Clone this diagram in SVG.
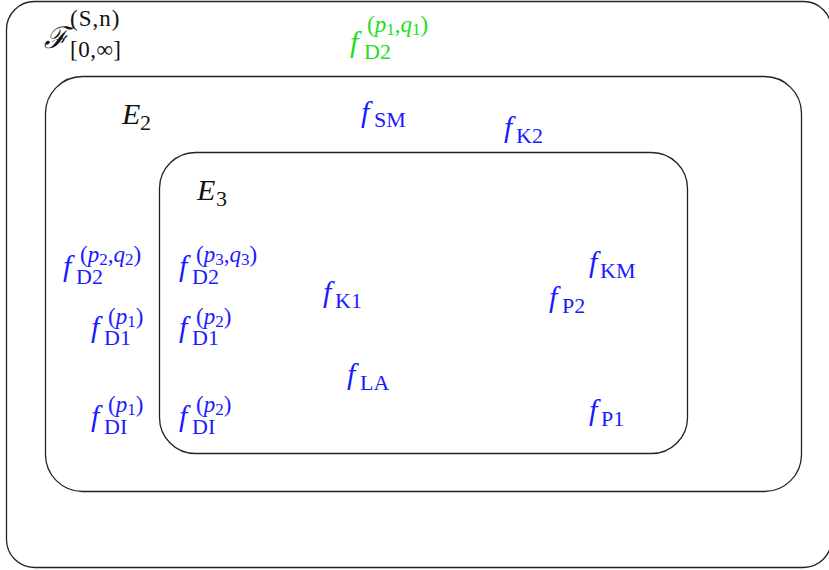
<svg xmlns="http://www.w3.org/2000/svg" width="829" height="570" viewBox="0 0 829 570">
<style>
.box{fill:none;stroke:#222;stroke-width:1.3}
text{font-family:"Liberation Serif","DejaVu Serif",serif;fill:#1a1aff}
.g{fill:#22dd22}
.k{fill:#111}
.m{font-size:30px;font-style:italic}
.s{font-size:22px;font-style:normal}
.su{font-size:23px;font-style:normal}
.si{font-size:23px;font-style:italic}
.ss{font-size:17px;font-style:normal}
</style>
<g id="outer">
<rect class="box" x="6.5" y="1.5" width="825" height="566" rx="28"/>
<text class="k"><tspan class="m" x="44" y="48" font-family="DejaVu Serif,serif">ℱ</tspan><tspan class="su" x="70" y="26" letter-spacing="1">(S,n)</tspan><tspan class="su" x="70" y="57" letter-spacing="0.5">[0,∞]</tspan></text>
</g>
<g id="E2">
<rect class="box" x="45.5" y="76.5" width="756" height="415" rx="37"/>
<text class="k"><tspan class="m" x="122" y="124">E</tspan><tspan class="s" x="140" y="130">2</tspan></text>
</g>
<g id="E3">
<rect class="box" x="159.5" y="152.5" width="528" height="301" rx="36"/>
<text class="k"><tspan class="m" x="197" y="200">E</tspan><tspan class="s" x="216" y="206">3</tspan></text>
</g>
<g id="fD2_p1q1">
<text class="g"><tspan class="m" x="350" y="52">f</tspan><tspan class="su" x="367" y="32">(</tspan><tspan class="si">p</tspan><tspan class="ss" dy="3">1</tspan><tspan class="su" dy="-3">,</tspan><tspan class="si">q</tspan><tspan class="ss" dy="3">1</tspan><tspan class="su" dy="-3">)</tspan><tspan class="s" x="364" y="59">D2</tspan></text>
</g>
<g id="fSM"><text><tspan class="m" x="361" y="122">f</tspan><tspan class="s" x="374" y="127">SM</tspan></text></g>
<g id="fK2"><text><tspan class="m" x="504" y="137">f</tspan><tspan class="s" x="516" y="143">K2</tspan></text></g>
<g id="fD2_p2q2">
<text><tspan class="m" x="63" y="276">f</tspan><tspan class="su" x="80" y="262">(</tspan><tspan class="si">p</tspan><tspan class="ss" dy="3">2</tspan><tspan class="su" dy="-3">,</tspan><tspan class="si">q</tspan><tspan class="ss" dy="3">2</tspan><tspan class="su" dy="-3">)</tspan><tspan class="s" x="76" y="284">D2</tspan></text>
</g>
<g id="fD2_p3q3">
<text><tspan class="m" x="179" y="276">f</tspan><tspan class="su" x="196" y="262">(</tspan><tspan class="si">p</tspan><tspan class="ss" dy="3">3</tspan><tspan class="su" dy="-3">,</tspan><tspan class="si">q</tspan><tspan class="ss" dy="3">3</tspan><tspan class="su" dy="-3">)</tspan><tspan class="s" x="192" y="284">D2</tspan></text>
</g>
<g id="fD1_p1">
<text><tspan class="m" x="91" y="337">f</tspan><tspan class="su" x="108" y="324">(</tspan><tspan class="si">p</tspan><tspan class="ss" dy="3">1</tspan><tspan class="su" dy="-3">)</tspan><tspan class="s" x="104" y="345">D1</tspan></text>
</g>
<g id="fD1_p2">
<text><tspan class="m" x="179" y="337">f</tspan><tspan class="su" x="196" y="324">(</tspan><tspan class="si">p</tspan><tspan class="ss" dy="3">2</tspan><tspan class="su" dy="-3">)</tspan><tspan class="s" x="192" y="345">D1</tspan></text>
</g>
<g id="fDI_p1">
<text><tspan class="m" x="91" y="426">f</tspan><tspan class="su" x="108" y="412">(</tspan><tspan class="si">p</tspan><tspan class="ss" dy="3">1</tspan><tspan class="su" dy="-3">)</tspan><tspan class="s" x="104" y="434">DI</tspan></text>
</g>
<g id="fDI_p2">
<text><tspan class="m" x="179" y="426">f</tspan><tspan class="su" x="196" y="412">(</tspan><tspan class="si">p</tspan><tspan class="ss" dy="3">2</tspan><tspan class="su" dy="-3">)</tspan><tspan class="s" x="192" y="434">DI</tspan></text>
</g>
<g id="fK1"><text><tspan class="m" x="323" y="302">f</tspan><tspan class="s" x="335" y="308">K1</tspan></text></g>
<g id="fLA"><text><tspan class="m" x="347" y="384">f</tspan><tspan class="s" x="360" y="390">LA</tspan></text></g>
<g id="fKM"><text><tspan class="m" x="589" y="272">f</tspan><tspan class="s" x="600" y="278">KM</tspan></text></g>
<g id="fP2"><text><tspan class="m" x="549" y="307">f</tspan><tspan class="s" x="562" y="313">P2</tspan></text></g>
<g id="fP1"><text><tspan class="m" x="589" y="420">f</tspan><tspan class="s" x="601" y="426">P1</tspan></text></g>
<g id="connectors"/>
</svg>
